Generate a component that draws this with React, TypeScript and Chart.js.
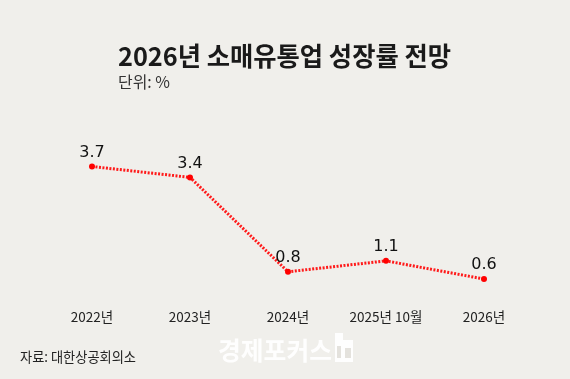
import React, { useEffect, useRef } from "react";
import { Chart, registerables } from "chart.js";

Chart.register(...registerables);

const categories = ["2022년", "2023년", "2024년", "2025년 10월", "2026년"];
const growthValues = [3.7, 3.4, 0.8, 1.1, 0.6];
const valueLabels = ["3.7", "3.4", "0.8", "1.1", "0.6"];
const titleText = "2026년 소매유통업 성장률 전망";
const unitText = "단위: %";
const sourceText = "자료: 대한상공회의소";
const watermarkText = "경제포커스";

const BG = "#f0efeb";
const KR = "'Noto Sans CJK KR', 'Noto Sans', sans-serif";

function fitText(ctx: any, text: string, x: number, y: number, w: number) {
  ctx.save();
  ctx.translate(x, y);
  const m = ctx.measureText(text).width;
  ctx.scale(w / m, 1);
  ctx.fillText(text, 0, 0);
  ctx.restore();
}

const decorPlugin = {
  id: "decor",
  beforeDraw(chart: any) {
    const { ctx, width, height } = chart;
    ctx.save();
    ctx.fillStyle = BG;
    ctx.fillRect(0, 0, width, height);
    ctx.restore();
  },
  afterDraw(chart: any) {
    const { ctx } = chart;
    ctx.save();
    ctx.textBaseline = "middle";
    ctx.textAlign = "left";
    // title
    ctx.fillStyle = "#1a1a1a";
    ctx.font = `700 26px ${KR}`;
    fitText(ctx, titleText, 118, 56, 333);
    // unit
    ctx.fillStyle = "#333";
    ctx.font = `400 16px ${KR}`;
    fitText(ctx, unitText, 118, 82, 52);
    // source
    ctx.fillStyle = "#222";
    ctx.font = `400 14px ${KR}`;
    fitText(ctx, sourceText, 20, 357, 116);
    // watermark
    ctx.fillStyle = "rgba(255,255,255,0.92)";
    ctx.font = `700 25px ${KR}`;
    fitText(ctx, watermarkText, 218, 350, 114);
    ctx.fillRect(335, 333, 8, 29);
    ctx.fillRect(343, 340, 10, 22);
    ctx.fillStyle = "#e4e2dd";
    ctx.fillRect(337, 346, 4, 12);
    ctx.fillRect(345, 348, 6, 10);

    // data labels
    const meta = chart.getDatasetMeta(0);
    ctx.fillStyle = "#111";
    ctx.textAlign = "center";
    ctx.font = `400 16px 'DejaVu Sans', sans-serif`;
    meta.data.forEach((pt: any, i: number) => {
      ctx.fillText(valueLabels[i], pt.x, pt.y - 14);
    });
    ctx.restore();
  },
};

export default function App() {
  const ref = useRef<HTMLCanvasElement>(null);
  useEffect(() => {
    document.body.style.margin = "0";
    const chart = new Chart(ref.current!, {
      type: "line",
      data: {
        labels: categories,
        datasets: [
          {
            data: growthValues,
            borderColor: "#ff1a1a",
            borderWidth: 3,
            borderDash: [2, 1.5],
            pointRadius: 3,
            pointBackgroundColor: "#ff0000",
            pointBorderColor: "#ff0000",
            pointBorderWidth: 0,
            tension: 0,
            clip: false as any,
          },
        ],
      },
      options: {
        animation: false,
        responsive: false,
        layout: { padding: { top: 155.6, left: 43, right: 37, bottom: 46 } },
        plugins: { legend: { display: false }, tooltip: { enabled: false } },
        scales: {
          x: {
            offset: true,
            grid: { display: false, drawTicks: false },
            border: { display: false },
            ticks: {
              padding: 8,
              color: "#222",
              font: { family: KR, size: 13.5 },
            },
          },
          y: { display: false, min: 0, max: 4 },
        },
      },
      plugins: [decorPlugin],
    });
    return () => chart.destroy();
  }, []);
  return <canvas ref={ref} width={570} height={379} style={{ display: "block" }} />;
}
